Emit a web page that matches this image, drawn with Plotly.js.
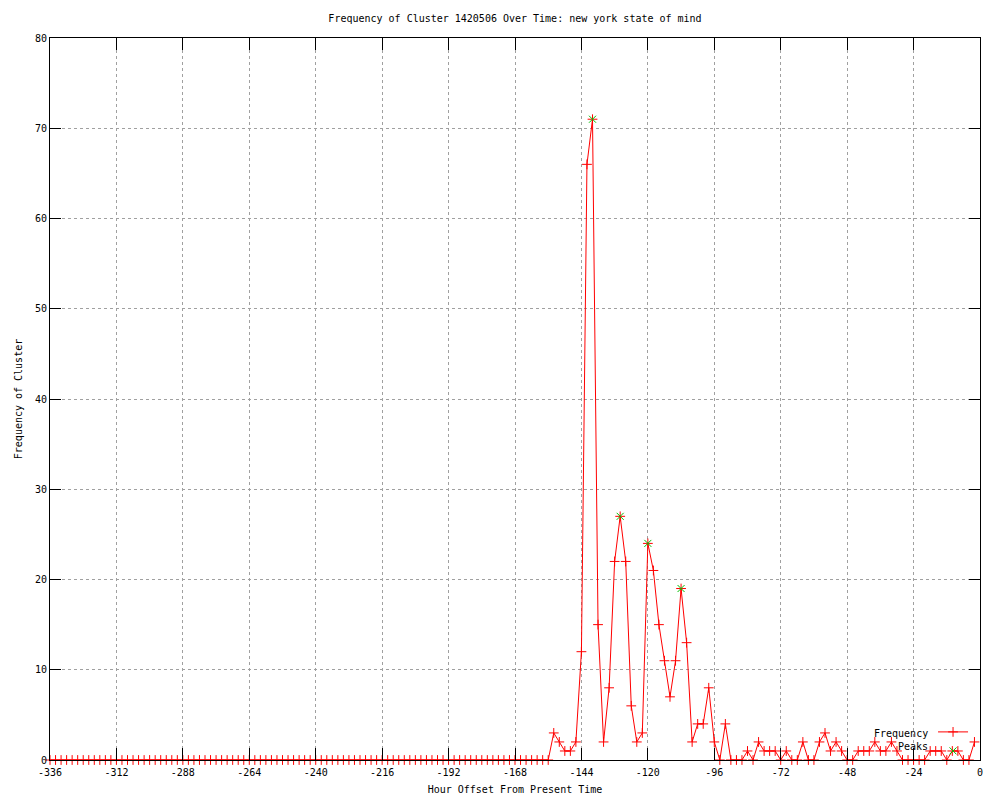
<!DOCTYPE html>
<html>
<head>
<meta charset="utf-8">
<script src="https://cdn.plot.ly/plotly-3.0.1.min.js"></script>
<style>html,body{margin:0;padding:0;background:#fff;}#chart{width:1000px;height:800px;}</style>
</head>
<body>
<div id="chart"></div>
<script>
// ---- data ----
const chartTitle = "Frequency of Cluster 1420506 Over Time: new york state of mind";
const xTitle = "Hour Offset From Present Time";
const yTitle = "Frequency of Cluster";
const seriesName = "Frequency";
const peaksName = "Peaks";

const hours = [
  -336,-334,-332,-330,-328,-326,-324,-322,-320,-318,
  -316,-314,-312,-310,-308,-306,-304,-302,-300,-298,
  -296,-294,-292,-290,-288,-286,-284,-282,-280,-278,
  -276,-274,-272,-270,-268,-266,-264,-262,-260,-258,
  -256,-254,-252,-250,-248,-246,-244,-242,-240,-238,
  -236,-234,-232,-230,-228,-226,-224,-222,-220,-218,
  -216,-214,-212,-210,-208,-206,-204,-202,-200,-198,
  -196,-194,-192,-190,-188,-186,-184,-182,-180,-178,
  -176,-174,-172,-170,-168,-166,-164,-162,-160,-158,
  -156,-154,-152,-150,-148,-146,-144,-142,-140,-138,
  -136,-134,-132,-130,-128,-126,-124,-122,-120,-118,
  -116,-114,-112,-110,-108,-106,-104,-102,-100,-98,
  -96,-94,-92,-90,-88,-86,-84,-82,-80,-78,
  -76,-74,-72,-70,-68,-66,-64,-62,-60,-58,
  -56,-54,-52,-50,-48,-46,-44,-42,-40,-38,
  -36,-34,-32,-30,-28,-26,-24,-22,-20,-18,
  -16,-14,-12,-10,-8,-6,-4,-2
];
const frequency = [
  0,0,0,0,0,0,0,0,0,0,
  0,0,0,0,0,0,0,0,0,0,
  0,0,0,0,0,0,0,0,0,0,
  0,0,0,0,0,0,0,0,0,0,
  0,0,0,0,0,0,0,0,0,0,
  0,0,0,0,0,0,0,0,0,0,
  0,0,0,0,0,0,0,0,0,0,
  0,0,0,0,0,0,0,0,0,0,
  0,0,0,0,0,0,0,0,0,0,
  0,3,2,1,1,2,12,66,71,15,
  2,8,22,27,22,6,2,3,24,21,
  15,11,7,11,19,13,2,4,4,8,
  2,0,4,0,0,0,1,0,2,1,
  1,1,0,1,0,0,2,0,0,2,
  3,1,2,1,0,0,1,1,1,2,
  1,1,2,1,0,0,0,0,0,1,
  1,1,0,1,1,0,0,2
];
const peakHours = [-140, -130, -120, -108];
const peakValues = [71, 27, 24, 19];

const xTickVals = [-336,-312,-288,-264,-240,-216,-192,-168,-144,-120,-96,-72,-48,-24,0];
const xTickText = ["-336","-312","-288","-264","-240","-216","-192","-168","-144","-120","-96","-72","-48","-24","0"];
const yTickVals = [0,10,20,30,40,50,60,70,80];
const yTickText = ["0","10","20","30","40","50","60","70","80"];

// ---- chart ----
const FONT = {family: "DejaVu Sans Mono, monospace", size: 10, color: "#000"};

const traces = [
  {
    x: hours, y: frequency, type: "scatter", mode: "lines+markers",
    name: " ", legendgroup: "f",
    line: {color: "#ff0000", width: 1},
    marker: {symbol: "cross-thin-open", size: 7, color: "#ff0000", line: {color: "#ff0000", width: 1}},
    cliponaxis: false
  },
  {
    x: peakHours, y: peakValues, type: "scatter", mode: "markers",
    name: " ", legendgroup: "p",
    marker: {symbol: "x-thin-open", size: 7, color: "#00c000", line: {color: "#00c000", width: 1}},
    cliponaxis: false
  }
];

const axisCommon = {
  showline: true, linecolor: "#000", linewidth: 1, mirror: "allticks",
  ticks: "inside", tickcolor: "#000", tickwidth: 1,
  showgrid: true, gridcolor: "#a0a0a0", gridwidth: 1, griddash: "3px,3px",
  zeroline: false, tickfont: FONT, tickmode: "array", automargin: false
};

const layout = {
  width: 1000, height: 800,
  paper_bgcolor: "#fff", plot_bgcolor: "#fff",
  font: FONT,
  margin: {l: 50, r: 20, t: 38, b: 40, pad: 0},
  title: {text: chartTitle, font: FONT, x: 0.5, xref: "paper", xanchor: "center", y: 1 - 18/800, yref: "container", yanchor: "middle"},
  xaxis: Object.assign({}, axisCommon, {
    range: [-336, 0], tickvals: xTickVals, ticktext: xTickText, ticklen: 12,
    ticklabelstandoff: 3,
    title: {text: xTitle, font: FONT, standoff: 8}
  }),
  yaxis: Object.assign({}, axisCommon, {
    range: [0, 80], tickvals: yTickVals, ticktext: yTickText, ticklen: 11,
    title: {text: yTitle, font: FONT, standoff: 10}
  }),
  showlegend: true,
  legend: {
    x: 0.9495, xanchor: "left", y: 0.059, yanchor: "top",
    bgcolor: "rgba(0,0,0,0)", borderwidth: 0, font: FONT,
    traceorder: "normal", itemwidth: 30, tracegroupgap: 0
  },
  annotations: [
    {text: seriesName, xref: "paper", yref: "paper", x: 0.946, y: (760-733)/722, xanchor: "right", yanchor: "middle", showarrow: false, font: FONT},
    {text: peaksName, xref: "paper", yref: "paper", x: 0.946, y: (760-746)/722, xanchor: "right", yanchor: "middle", showarrow: false, font: FONT}
  ]
};

Plotly.newPlot("chart", traces, layout, {staticPlot: true, displayModeBar: false});
</script>
</body>
</html>
